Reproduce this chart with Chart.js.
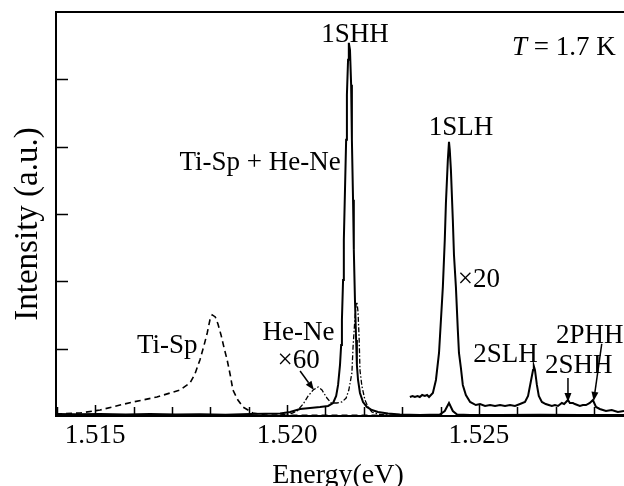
<!DOCTYPE html>
<html>
<head>
<meta charset="utf-8">
<script src="https://cdn.jsdelivr.net/npm/chart.js@4.4.1/dist/chart.umd.min.js"></script>
<style>
  html, body { margin: 0; padding: 0; background: #fff; }
  #wrap { width: 624px; height: 486px; }
</style>
</head>
<body>
<div id="wrap"><canvas id="pl" width="624" height="486"></canvas></div>
<script>
// axis ranges and tick labels
const xMin = 1.51398;
const xMax = 1.52878;
const xMajorTicks = [1.515, 1.520, 1.525];
const xTickLabels = ['1.515', '1.520', '1.525'];
const xMinorTicks = [1.514, 1.516, 1.517, 1.518, 1.519, 1.521, 1.522, 1.523, 1.524, 1.526, 1.527, 1.528];
const yTicks = [1, 2, 3, 4, 5];

// Ti-Sp + He-Ne PL spectrum (solid)
const energyMain = [1.51398, 1.51450, 1.51513, 1.51580, 1.51643, 1.51710, 1.51773, 1.51840, 1.51904, 1.51982,
  1.52008, 1.52034, 1.52060, 1.52086, 1.52107, 1.52120, 1.52128, 1.52133, 1.52138, 1.52141,
  1.52143, 1.52146, 1.52148, 1.52151, 1.52154, 1.52156, 1.52159, 1.52161, 1.52164, 1.52167,
  1.52169, 1.52172, 1.52174, 1.52177, 1.52180, 1.52182, 1.52185, 1.52190, 1.52198, 1.52208,
  1.52221, 1.52237, 1.52263, 1.52294, 1.52346, 1.52398, 1.52411, 1.52422, 1.52432, 1.52443,
  1.52477, 1.52555, 1.52659, 1.52763, 1.52878];
const intensityMain = [0.030, 0.025, 0.030, 0.022, 0.028, 0.022, 0.025, 0.020, 0.030, 0.037,
  0.059, 0.104, 0.119, 0.134, 0.149, 0.193, 0.297, 0.461, 0.758, 1.055,
  1.426, 2.020, 2.615, 3.358, 4.101, 4.770, 5.290, 5.542, 5.438, 4.918,
  4.101, 3.210, 2.467, 1.724, 1.129, 0.758, 0.535, 0.342, 0.208, 0.134,
  0.089, 0.059, 0.037, 0.022, 0.015, 0.022, 0.074, 0.193, 0.074, 0.022,
  0.015, 0.015, 0.018, 0.015, 0.015];

// same spectrum magnified x20 (solid)
const energyX20 = [1.52320, 1.52327, 1.52333, 1.52340, 1.52346, 1.52352, 1.52359, 1.52365, 1.52370, 1.52380,
  1.52388, 1.52396, 1.52401, 1.52406, 1.52411, 1.52414, 1.52419, 1.52422, 1.52424, 1.52427,
  1.52432, 1.52435, 1.52440, 1.52445, 1.52448, 1.52453, 1.52458, 1.52466, 1.52477, 1.52492,
  1.52503, 1.52516, 1.52529, 1.52542, 1.52555, 1.52568, 1.52581, 1.52594, 1.52607, 1.52620,
  1.52628, 1.52635, 1.52641, 1.52643, 1.52646, 1.52651, 1.52656, 1.52664, 1.52674, 1.52682,
  1.52690, 1.52698, 1.52706, 1.52716, 1.52722, 1.52727, 1.52732, 1.52737, 1.52745, 1.52750,
  1.52763, 1.52771, 1.52779, 1.52789, 1.52797, 1.52805, 1.52815, 1.52823, 1.52831, 1.52846,
  1.52862, 1.52878];
const intensityX20 = [0.282, 0.297, 0.282, 0.297, 0.282, 0.312, 0.297, 0.312, 0.282, 0.342,
  0.535, 0.936, 1.426, 1.917, 2.615, 3.165, 3.804, 4.071, 3.952, 3.655,
  2.912, 2.392, 1.917, 1.278, 0.936, 0.713, 0.461, 0.312, 0.208, 0.163,
  0.178, 0.149, 0.163, 0.149, 0.163, 0.149, 0.163, 0.149, 0.178, 0.208,
  0.297, 0.505, 0.684, 0.743, 0.684, 0.461, 0.297, 0.208, 0.178, 0.163,
  0.149, 0.163, 0.149, 0.193, 0.178, 0.208, 0.238, 0.193, 0.193, 0.178,
  0.149, 0.163, 0.163, 0.193, 0.238, 0.134, 0.104, 0.089, 0.074, 0.089,
  0.059, 0.074];

// Ti-Sapphire laser only (dashed)
const energyTiSp = [1.51398, 1.51461, 1.51513, 1.51565, 1.51599, 1.51661, 1.51721, 1.51747, 1.51760, 1.51773,
  1.51784, 1.51792, 1.51799, 1.51805, 1.51813, 1.51820, 1.51828, 1.51836, 1.51844, 1.51852,
  1.51859, 1.51872, 1.51885, 1.51911, 1.51943, 1.52008, 1.52100, 1.52200, 1.52300];
const intensityTiSp = [0.030, 0.045, 0.089, 0.163, 0.208, 0.282, 0.386, 0.490, 0.624, 0.832,
  1.055, 1.233, 1.426, 1.501, 1.471, 1.367, 1.204, 1.010, 0.832, 0.609,
  0.386, 0.238, 0.134, 0.045, 0.015, 0.010, 0.010, 0.010, 0.010];

// He-Ne laser only, x60 (dash-dot)
const energyHeNe = [1.51982, 1.52008, 1.52026, 1.52042, 1.52055, 1.52068, 1.52081, 1.52091, 1.52104, 1.52115,
  1.52130, 1.52143, 1.52154, 1.52161, 1.52169, 1.52172, 1.52177, 1.52180, 1.52182, 1.52185,
  1.52188, 1.52190, 1.52195, 1.52203, 1.52211, 1.52221, 1.52242, 1.52294, 1.52398];
const intensityHeNe = [0.015, 0.030, 0.074, 0.178, 0.297, 0.386, 0.431, 0.386, 0.267, 0.193,
  0.193, 0.208, 0.267, 0.386, 0.639, 1.025, 1.456, 1.664, 1.694, 1.545,
  1.129, 0.684, 0.446, 0.238, 0.134, 0.059, 0.022, 0.007, 0.007];

function pts(xs, ys) {
  return xs.map((x, i) => ({ x, y: ys[i] }));
}

// text notes and arrows, anchored in data units (centre x, baseline y)
const notes = [
  { text: '1SHH', x: 1.52177, y: 5.56 },
  { text: '1SLH', x: 1.52453, y: 4.175 },
  { text: 'Ti-Sp + He-Ne', x: 1.51930, y: 3.655 },
  { text: '\u00d720', x: 1.52500, y: 1.917 },
  { text: 'He-Ne', x: 1.52030, y: 1.129 },
  { text: '\u00d760', x: 1.52030, y: 0.713 },
  { text: 'Ti-Sp', x: 1.51688, y: 0.936 },
  { text: '2SLH', x: 1.52569, y: 0.802 },
  { text: '2SHH', x: 1.52760, y: 0.639 },
  { text: '2PHH', x: 1.52789, y: 1.085 }
];
const arrows = [
  { x1: 1.52034, y1: 0.669, x2: 1.52070, y2: 0.386 },
  { x1: 1.52732, y1: 0.565, x2: 1.52732, y2: 0.208 },
  { x1: 1.52820, y1: 1.070, x2: 1.52799, y2: 0.223 }
];

const SERIF = "'Liberation Serif', 'Times New Roman', serif";

const framePlugin = {
  id: 'frameAndNotes',
  afterDraw(chart) {
    const { ctx, chartArea: a, scales } = chart;
    const xs = scales.x, ys = scales.y;
    ctx.save();
    ctx.strokeStyle = '#000';
    ctx.fillStyle = '#000';
    ctx.lineWidth = 2;
    ctx.beginPath();
    ctx.moveTo(a.right, a.top); ctx.lineTo(a.left, a.top);
    ctx.lineTo(a.left, a.bottom); ctx.lineTo(a.right, a.bottom);
    ctx.stroke();

    // inward ticks
    ctx.lineWidth = 1.5;
    ctx.beginPath();
    xMinorTicks.forEach(v => {
      const px = Math.round(xs.getPixelForValue(v)) + 0.5;
      ctx.moveTo(px, a.bottom); ctx.lineTo(px, a.bottom - 9);
    });
    xMajorTicks.forEach(v => {
      const px = Math.round(xs.getPixelForValue(v)) + 0.5;
      ctx.moveTo(px, a.bottom); ctx.lineTo(px, a.bottom - 11);
    });
    yTicks.forEach(v => {
      const py = Math.round(ys.getPixelForValue(v)) + 0.5;
      ctx.moveTo(a.left, py); ctx.lineTo(a.left + 12, py);
    });
    ctx.stroke();

    // axis titles
    ctx.font = '28px ' + SERIF;
    ctx.textAlign = 'center';
    ctx.textBaseline = 'alphabetic';
    ctx.fillText('Energy(eV)', 338, 483);
    ctx.save();
    ctx.translate(37, 224);
    ctx.rotate(-Math.PI / 2);
    ctx.font = '33px ' + SERIF;
    ctx.fillText('Intensity (a.u.)', 0, 0);
    ctx.restore();

    // peak labels
    ctx.font = '27px ' + SERIF;
    notes.forEach(n => {
      ctx.fillText(n.text, xs.getPixelForValue(n.x), ys.getPixelForValue(n.y));
    });

    // temperature
    ctx.textAlign = 'left';
    ctx.font = 'italic 27px ' + SERIF;
    const tx = xs.getPixelForValue(1.52586), ty = ys.getPixelForValue(5.36);
    ctx.fillText('T', tx, ty);
    const tw = ctx.measureText('T').width;
    ctx.font = '27px ' + SERIF;
    ctx.fillText(' = 1.7 K', tx + tw, ty);

    // arrows
    ctx.lineWidth = 1.5;
    arrows.forEach(ar => {
      const x1 = xs.getPixelForValue(ar.x1), y1 = ys.getPixelForValue(ar.y1);
      const x2 = xs.getPixelForValue(ar.x2), y2 = ys.getPixelForValue(ar.y2);
      const ang = Math.atan2(y2 - y1, x2 - x1);
      const hl = 9, hw = 3.5;
      const bx = x2 - hl * Math.cos(ang), by = y2 - hl * Math.sin(ang);
      ctx.beginPath();
      ctx.moveTo(x1, y1); ctx.lineTo(bx, by);
      ctx.stroke();
      ctx.beginPath();
      ctx.moveTo(x2, y2);
      ctx.lineTo(bx + hw * Math.sin(ang), by - hw * Math.cos(ang));
      ctx.lineTo(bx - hw * Math.sin(ang), by + hw * Math.cos(ang));
      ctx.closePath();
      ctx.fill();
    });
    ctx.restore();
  }
};

const line = (data, extra) => Object.assign({
  data,
  showLine: true,
  borderColor: '#000',
  borderWidth: 2,
  pointRadius: 0,
  tension: 0,
  fill: false
}, extra);

new Chart(document.getElementById('pl'), {
  type: 'scatter',
  data: {
    datasets: [
      line(pts(energyMain, intensityMain), { label: 'Ti-Sp + He-Ne' }),
      line(pts(energyX20, intensityX20), { label: 'x20' }),
      line(pts(energyTiSp, intensityTiSp), { label: 'Ti-Sp', borderWidth: 1.6, borderDash: [6, 4] }),
      line(pts(energyHeNe, intensityHeNe), { label: 'He-Ne x60', borderWidth: 1.3, borderDash: [5, 2, 1.5, 2] })
    ]
  },
  options: {
    responsive: false,
    animation: false,
    events: [],
    layout: { padding: { top: 12, left: 0, right: 0, bottom: 0 } },
    plugins: { legend: { display: false }, tooltip: { enabled: false } },
    scales: {
      x: {
        type: 'linear',
        min: xMin,
        max: xMax,
        grid: { display: false, drawTicks: false },
        border: { display: false },
        afterBuildTicks: (s) => { s.ticks = xMajorTicks.map(v => ({ value: v })); },
        afterFit: (s) => { s.height = 70; },
        ticks: {
          autoSkip: false,
          maxRotation: 0,
          padding: 4,
          color: '#000',
          font: { family: SERIF, size: 27 },
          callback: (v) => xTickLabels[xMajorTicks.indexOf(v)]
        }
      },
      y: {
        min: 0,
        max: 6,
        grid: { display: false },
        border: { display: false },
        ticks: { display: false },
        afterFit: (s) => { s.width = 56; }
      }
    }
  },
  plugins: [framePlugin]
});
</script>
</body>
</html>
